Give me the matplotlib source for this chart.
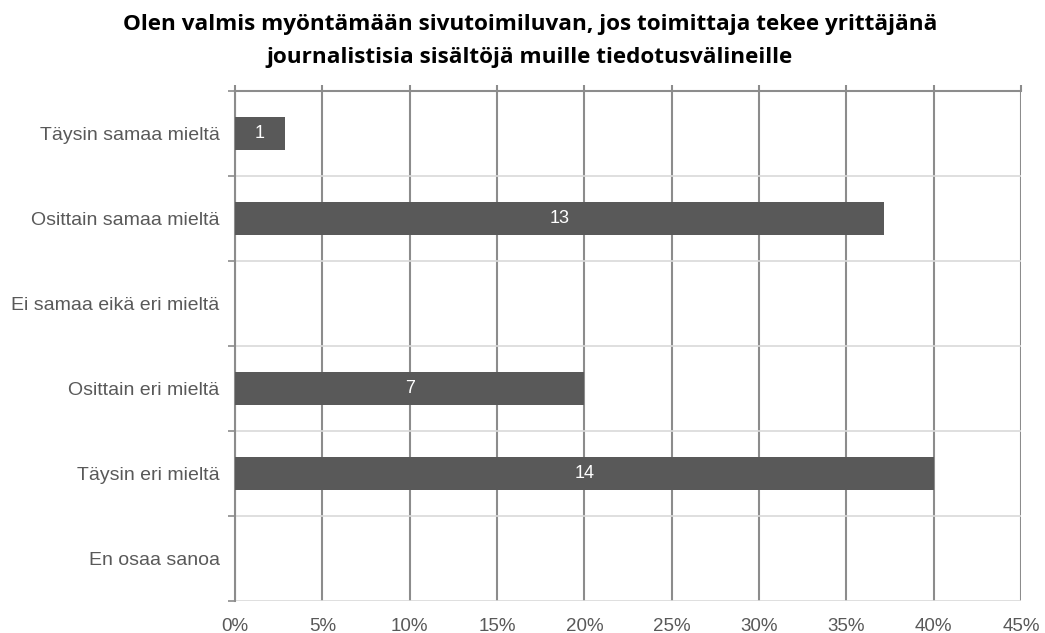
import numpy as np
from matplotlib import pyplot as plt
from matplotlib.ticker import FixedLocator, FuncFormatter

categories = ['Täysin samaa mieltä', 'Osittain samaa mieltä', 'Ei samaa eikä eri mieltä',
              'Osittain eri mieltä', 'Täysin eri mieltä', 'En osaa sanoa']
counts = [1, 13, 0, 7, 14, 0]
title = 'Olen valmis myöntämään sivutoimiluvan, jos toimittaja tekee yrittäjänä\njournalistisia sisältöjä muille tiedotusvälineille'

total = sum(counts)
percents = [100 * c / total for c in counts]

plt.rcParams['font.family'] = ['Liberation Sans', 'DejaVu Sans']

fig = plt.figure(figsize=(10.45, 6.33), dpi=100)
ax = fig.add_axes([235 / 1045, 1 - 601 / 633, (1021 - 235) / 1045, (601 - 91) / 633])

y = np.arange(len(categories))
ax.barh(y, percents, height=0.39, color='#595959', zorder=3)
for yi, p, c in zip(y, percents, counts):
    if c > 0:
        ax.text(p / 2, yi, str(c), ha='center', va='center', color='white', fontsize=13, zorder=4)

ax.set_ylim(len(categories) - 0.5, -0.5)
ax.set_xlim(0, 45)
ax.set_yticks(y)
ax.set_yticklabels(categories)
ax.yaxis.set_minor_locator(FixedLocator(np.arange(-0.5, len(categories), 1)))
ax.set_xticks(np.arange(0, 46, 5))
ax.xaxis.set_major_formatter(FuncFormatter(lambda v, pos: '%d%%' % v))

ax.tick_params(axis='y', which='major', length=0, pad=11, labelsize=14, labelcolor='#595959')
ax.tick_params(axis='y', which='minor', length=5, color='#8c8c8c', width=1.2)
ax.tick_params(axis='x', bottom=False, top=True, length=4, color='#8c8c8c', width=1.5,
               pad=8, labelsize=13.5, labelcolor='#595959')

ax.grid(axis='x', which='major', color='#8c8c8c', linewidth=1.5, zorder=0)
ax.grid(axis='y', which='minor', color='#d9d9d9', linewidth=1.2, zorder=0)

for s in ['right', 'bottom']:
    ax.spines[s].set_visible(False)
for s in ['left', 'top']:
    ax.spines[s].set_color('#8c8c8c')
    ax.spines[s].set_linewidth(1.5)

fig.text(0.507, 0.978, title, ha='center', va='top', fontsize=16.2, fontweight='bold',
         family=['Open Sans', 'DejaVu Sans'], linespacing=1.75)

fig.savefig('out.png', dpi=100)
